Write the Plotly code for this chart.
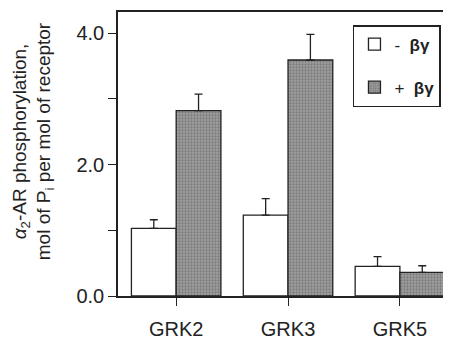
import plotly.graph_objects as go

categories = ["GRK2", "GRK3", "GRK5"]
minus_bg = [1.03, 1.23, 0.45]
minus_err = [0.13, 0.25, 0.15]
plus_bg = [2.82, 3.59, 0.36]
plus_err = [0.25, 0.39, 0.10]
ytick_vals = [0, 1, 2, 3, 4]
ytick_text = ["0.0", "", "2.0", "", "4.0"]

font_family = "Liberation Sans, Arial, sans-serif"
ink = "#222222"

fig = go.Figure()
fig.add_trace(go.Bar(
    x=categories, y=minus_bg, name="-  <b>βγ</b>", legendgroup="a",
    marker=dict(color="white", line=dict(color=ink, width=1.3)),
    error_y=dict(type="data", symmetric=False, array=minus_err,
                 arrayminus=[0, 0, 0], color=ink, thickness=1.3, width=4),
))
fig.add_trace(go.Bar(
    x=categories, y=plus_bg, name="+  <b>βγ</b>", legendgroup="b",
    marker=dict(color="#8f8f8f", line=dict(color=ink, width=1.3),
                pattern=dict(shape=".", fgcolor="#555555", bgcolor="#a0a0a0",
                             size=3, solidity=0.45)),
    error_y=dict(type="data", symmetric=False, array=plus_err,
                 arrayminus=[0, 0, 0], color=ink, thickness=1.3, width=4),
))

# page body has an 8px default margin, so the figure is 8px smaller
fig.update_layout(
    width=443, height=332,
    margin=dict(l=110, r=3, t=4, b=44),
    paper_bgcolor="white", plot_bgcolor="white",
    barmode="group", bargap=0.2, bargroupgap=0,
    font=dict(family=font_family, size=20, color=ink),
    showlegend=True,
    legend=dict(x=0.712, y=0.954, xanchor="left", yanchor="top",
                bordercolor=ink, borderwidth=1.5, bgcolor="white",
                font=dict(size=17, color=ink), tracegroupgap=18,
                itemwidth=30, traceorder="grouped"),
    xaxis=dict(range=[-0.52, 2.43], showline=True, linecolor=ink, linewidth=1.5,
               mirror=True, ticks="outside", ticklen=8, tickcolor=ink, tickwidth=1.3,
               showgrid=False, zeroline=False, ticklabelstandoff=6, automargin=False,
               tickfont=dict(size=20)),
    yaxis=dict(range=[0, 4.32], showline=True, linecolor=ink, linewidth=1.5,
               mirror=True, ticks="outside", ticklen=8, tickcolor=ink, tickwidth=1.3,
               tickvals=ytick_vals, ticktext=ytick_text, showgrid=False, automargin=False,
               zeroline=False, tickfont=dict(size=20)),
    annotations=[dict(
        text="<i>α</i><sub>2</sub>-AR phosphorylation,<br>mol of P<sub>i</sub> per mol of receptor",
        xref="paper", yref="paper", x=-0.2576, y=0.545, xanchor="center", yanchor="middle",
        textangle=-90, showarrow=False, font=dict(size=19, color=ink), align="center",
    )],
)

fig.write_html("out.html")
